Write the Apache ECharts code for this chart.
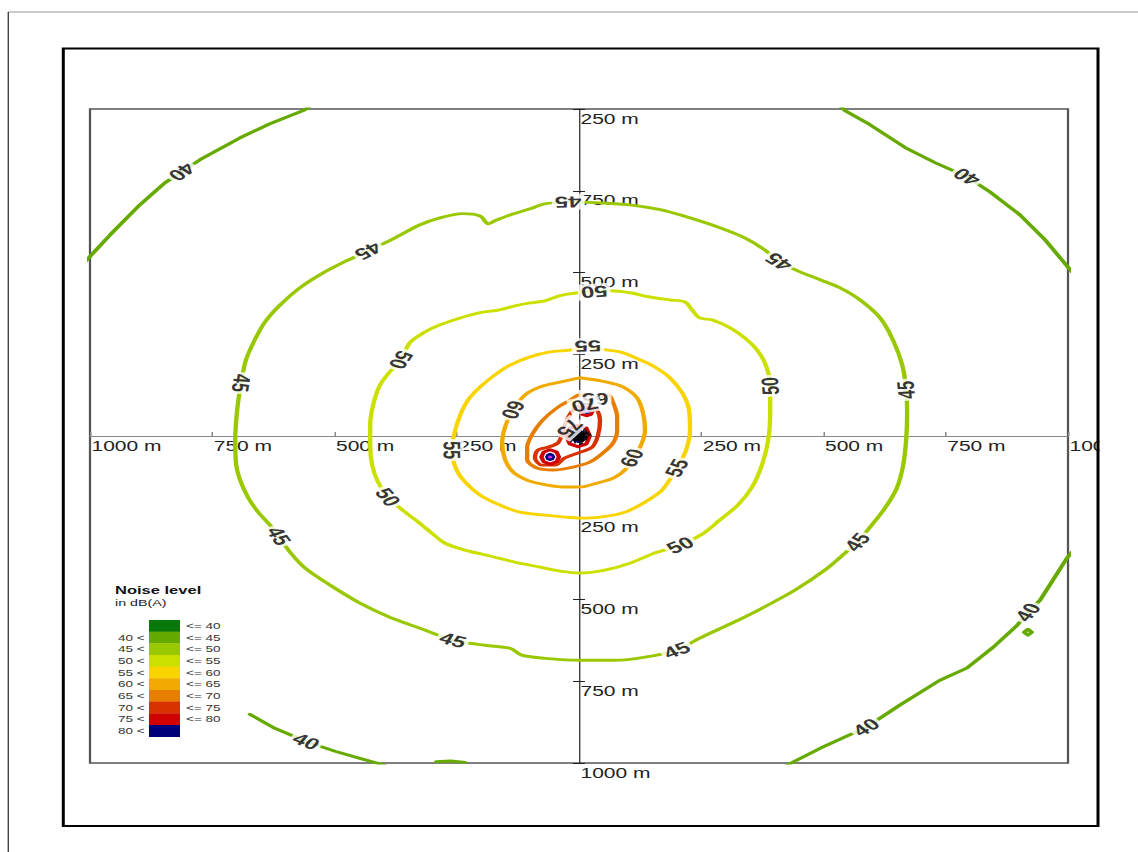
<!DOCTYPE html>
<html>
<head>
<meta charset="utf-8">
<title>Noise level contours</title>
<script src="https://cdn.jsdelivr.net/npm/echarts@6/dist/echarts.min.js"></script>
<style>
  html, body { margin: 0; padding: 0; background: #fff; overflow: hidden; }
  #stage { width: 1138px; height: 852px; overflow: hidden; position: relative; }
  /* the map is laid out on a narrow sheet and stretched to the page width */
  #chart { width: 759px; height: 852px; transform: scaleX(1.5); transform-origin: 0 0; }
</style>
</head>
<body>
<div id="stage"><div id="chart"></div></div>
<script>
// ---- axis ticks (metres from the source) ----
const xTicks = [-1000, -750, -500, -250, 0, 250, 500, 750, 1000];
const xTickLabels = ['1000 m', '750 m', '500 m', '250 m', '', '250 m', '500 m', '750 m', '1000 m'];
const yTicks = [-1000, -750, -500, -250, 0, 250, 500, 750, 1000];
const yTickLabels = ['1000 m', '750 m', '500 m', '250 m', '', '250 m', '500 m', '750 m', '250 m'];

// ---- noise bands, dB(A) ----
const bandLow = ['', '40 <', '45 <', '50 <', '55 <', '60 <', '65 <', '70 <', '75 <', '80 <'];
const bandHigh = ['<= 40', '<= 45', '<= 50', '<= 55', '<= 60', '<= 65', '<= 70', '<= 75', '<= 80', ''];
const bandColors = ['#0a780a', '#66aa00', '#99c800', '#cce000', '#f8d400', '#f0aa00', '#e87e00', '#d83200', '#d00000', '#00007a'];

// ---- iso-lines, [x m, y m], traced counter-clockwise ----
const c40NW = [[-545,1015],[-560,998],[-632,955],[-693,912],[-775,845],[-812,808],[-847,774],[-898,707],[-959,615],[-1010,533]];
const c40NE = [[1008,502],[953,600],[902,676],[840,747],[793,793],[728,836],[667,882],[595,952],[544,995],[534,1010]];
const c40SW = [[-673,-851],[-622,-894],[-558,-934],[-499,-964],[-448,-986],[-397,-1007]];
const c40S = [[-292,-996],[-262,-994],[-233,-998]];
const c40SE = [[421,-1010],[493,-955],[587,-891],[656,-823],[738,-747],[793,-710],[847,-646],[896,-579],[918,-539],[943,-502],[998,-373],[1008,-355]];
const c40Ring = [[926,-600],[918,-591],[910,-600],[918,-609],[926,-600]];

const c45 = [[-22,716],[-70,710],[-100,695],[-141,676],[-172,658],[-186,649],[-202,673],[-239,680],[-284,667],[-325,646],
  [-376,606],[-431,566],[-479,533],[-530,493],[-571,453],[-611,401],[-642,349],[-663,294],[-681,233],[-691,162],
  [-699,80],[-703,-12],[-701,-89],[-693,-135],[-677,-187],[-656,-233],[-632,-272],[-614,-306],[-591,-355],[-560,-404],
  [-509,-456],[-448,-511],[-387,-554],[-325,-588],[-258,-624],[-192,-640],[-141,-649],[-117,-670],[-70,-680],[2,-686],
  [74,-686],[135,-676],[200,-655],[247,-618],[309,-575],[370,-530],[442,-471],[503,-410],[544,-358],[569,-324],
  [595,-279],[626,-220],[650,-159],[663,-89],[669,-12],[671,64],[669,141],[661,217],[642,294],[616,361],
  [575,416],[534,453],[493,478],[452,502],[409,533],[380,569],[339,606],[288,637],[227,667],[166,692],
  [104,707],[43,713],[-22,716]];

const c50 = [[31,441],[-2,438],[-39,429],[-70,413],[-100,407],[-131,398],[-162,386],[-202,377],[-243,361],[-284,340],
  [-315,318],[-346,285],[-364,233],[-387,196],[-407,156],[-421,95],[-427,34],[-427,-28],[-423,-89],[-411,-141],
  [-391,-187],[-358,-230],[-329,-263],[-301,-297],[-274,-328],[-233,-349],[-182,-367],[-131,-386],[-80,-401],[-39,-413],
  [2,-419],[53,-410],[104,-389],[155,-358],[207,-334],[252,-300],[288,-257],[325,-211],[354,-156],[374,-89],
  [387,-12],[391,64],[391,153],[382,217],[364,263],[339,300],[309,331],[272,355],[247,361],[231,386],
  [217,410],[186,416],[145,425],[104,438],[63,444],[31,441]];

const c55 = [[18,275],[-18,263],[-59,257],[-100,242],[-141,217],[-172,187],[-202,150],[-227,110],[-243,64],[-254,12],
  [-260,-43],[-252,-98],[-233,-141],[-202,-181],[-162,-211],[-121,-233],[-70,-242],[-29,-248],[2,-251],[43,-248],
  [94,-233],[135,-202],[170,-165],[200,-98],[219,-43],[227,18],[225,80],[211,132],[186,178],[155,211],
  [125,233],[84,257],[43,266],[18,275]];

const c60 = [[2,178],[-39,165],[-80,150],[-110,126],[-135,80],[-151,28],[-157,-21],[-151,-73],[-135,-110],[-106,-135],
  [-65,-150],[-25,-156],[2,-156],[37,-144],[70,-129],[98,-98],[108,-67],[125,-34],[135,18],[131,70],
  [119,116],[90,150],[57,165],[2,178]];

const c65 = [[33,116],[2,126],[-18,110],[-45,86],[-74,49],[-94,9],[-106,-34],[-106,-73],[-86,-98],[-53,-104],
  [-12,-95],[22,-80],[49,-52],[70,-21],[78,18],[78,58],[70,101],[59,126],[33,116]];

const c70 = [[12,95],[-8,86],[-25,49],[-33,12],[-43,-21],[-63,-34],[-84,-43],[-90,-67],[-76,-89],[-49,-89],
  [-29,-67],[-2,-52],[27,-34],[39,3],[43,49],[37,80],[27,95],[12,95]];

const c75N = [[28,77],[24,88],[16,92],[7,88],[4,77],[7,66],[16,62],[24,66],[28,77]];
const c75C = [[22,0],[15,24],[-2,33],[-19,24],[-26,0],[-19,-24],[-2,-33],[15,-24],[22,0]];
const c75W = [[-41,-64],[-46,-49],[-59,-42],[-72,-49],[-77,-64],[-72,-79],[-59,-86],[-46,-79],[-41,-64]];

const c80N = [[22,77],[20,83],[16,85],[12,83],[10,77],[12,71],[16,69],[20,71],[22,77]];
const c80C = [[12,0],[8,14],[-2,20],[-12,14],[-16,0],[-12,-14],[-2,-20],[8,-14],[12,0]];
const c80W = [[-50,-64],[-53,-56],[-59,-53],[-65,-56],[-68,-64],[-65,-72],[-59,-75],[-53,-72],[-50,-64]];

// ---- noise sources ----
const outerSources = [[16,77],[-59,-64]];
const centreSources = [[-2,0],[-12,4],[8,-3],[4,8],[-8,-8],[14,4],[-16,-4],[2,-12],[10,10],[-6,10],[6,-10]];

// contour list: level, points, vertices that carry the level label
const contours = [
  { level: 40, pts: c40NW, labelAt: [5] },
  { level: 40, pts: c40NE, labelAt: [4] },
  { level: 40, pts: c40SW, labelAt: [2] },
  { level: 40, pts: c40S, labelAt: [] },
  { level: 40, pts: c40SE, labelAt: [2, 8] },
  { level: 40, pts: c40Ring, labelAt: [] },
  { level: 45, pts: c45, labelAt: [0, 11, 19, 27, 34, 42, 49, 56, 64] },
  { level: 50, pts: c50, labelAt: [0, 12, 20, 34, 42] },
  { level: 55, pts: c55, labelAt: [0, 10, 23] },
  { level: 60, pts: c60, labelAt: [4, 16] },
  { level: 65, pts: c65, labelAt: [0] },
  { level: 70, pts: c70, labelAt: [0] },
  { level: 75, pts: c75N, labelAt: [] },
  { level: 75, pts: c75C, labelAt: [3] },
  { level: 75, pts: c75W, labelAt: [] }
];
const c80Loops = [c80N, c80C, c80W];

const levelColor = lv => bandColors[(lv - 40) / 5 + 1];
const FONT = '"Liberation Sans", Arial, sans-serif';

// ---- plot box (sheet pixels) ----
const GRID = { left: 60, right: 47, top: 109, bottom: 89 };
const SHEET_W = 759, SHEET_H = 852;
const plotW = SHEET_W - GRID.left - GRID.right;
const plotH = SHEET_H - GRID.top - GRID.bottom;

// ---- legend block and frames ----
const legendTop = 620, rowH = 11.67;
const legendChildren = [
  { type: 'text', x: 76.7, y: 590, style: { text: 'Noise level', font: 'bold 11px ' + FONT, fill: '#111', verticalAlign: 'middle' } },
  { type: 'text', x: 76.7, y: 603, style: { text: 'in dB(A)', font: '9.5px ' + FONT, fill: '#222', verticalAlign: 'middle' } }
];
bandColors.forEach((c, i) => {
  const cy = legendTop + i * rowH;
  legendChildren.push({ type: 'rect', shape: { x: 99.3, y: cy, width: 20.7, height: rowH + 0.3 }, style: { fill: c } });
  if (bandLow[i]) legendChildren.push({ type: 'text', x: 96.5, y: cy + rowH / 2, style: { text: bandLow[i], font: '9px ' + FONT, fill: '#333', align: 'right', verticalAlign: 'middle' } });
  if (bandHigh[i]) legendChildren.push({ type: 'text', x: 124, y: cy + rowH / 2, style: { text: bandHigh[i], font: '9px ' + FONT, fill: '#333', align: 'left', verticalAlign: 'middle' } });
});

const graphics = [
  { type: 'line', z: 100, shape: { x1: 5.5, y1: 12, x2: 759, y2: 12 }, style: { stroke: '#999', lineWidth: 1 } },
  { type: 'line', z: 100, shape: { x1: 5.5, y1: 12, x2: 5.5, y2: 852 }, style: { stroke: '#222', lineWidth: 0.8 } },
  { type: 'rect', z: 101, shape: { x: 733, y: 420, width: 30, height: 60 }, style: { fill: '#fff' } },
  { type: 'rect', z: 102, shape: { x: 42.2, y: 48.5, width: 689.8, height: 777.5 }, style: { fill: 'none', stroke: '#000', lineWidth: 2 } },
  { type: 'group', z: 100, children: legendChildren }
];

// ---- series ----
const series = contours.map(c => ({
  type: 'line',
  data: c.pts,
  showSymbol: false,
  symbol: 'none',
  smooth: c.pts.length > 12 ? 0.3 : 0,
  lineStyle: { color: levelColor(c.level), width: 2.9, cap: 'round', join: 'round' },
  silent: true,
  z: 3
}));

series.push({
  type: 'custom',
  name: 'above 80',
  data: c80Loops.map((_, i) => [i, 0]),
  renderItem: (params, api) => {
    const loop = c80Loops[api.value(0)];
    return {
      type: 'polygon',
      shape: { points: loop.map(p => api.coord(p)) },
      style: { fill: bandColors[9], stroke: bandColors[9], lineWidth: 1 }
    };
  },
  silent: true,
  z: 4
});

series.push({
  type: 'scatter',
  data: outerSources,
  symbol: 'circle',
  symbolSize: 3,
  itemStyle: { color: '#ff3cff' },
  silent: true,
  z: 5
});
series.push({
  type: 'scatter',
  data: centreSources,
  symbol: 'path://M4,0H6V4H10V6H6V10H4V6H0V4H4Z',
  symbolSize: [7, 10],
  itemStyle: { color: '#000' },
  silent: true,
  z: 6
});
series.push({
  id: 'levelLabels',
  type: 'scatter',
  data: [],
  symbolSize: 1,
  itemStyle: { color: 'rgba(0,0,0,0)' },
  label: {
    show: true,
    position: 'inside',
    fontFamily: FONT,
    fontWeight: 'bold',
    fontSize: 16,
    color: '#000',
    backgroundColor: '#fff',
    padding: [0, 2, 0, 2]
  },
  silent: true,
  z: 10
});

const tickText = (ticks, labels) => v => {
  const i = ticks.indexOf(v);
  return i < 0 ? '' : labels[i];
};

// the axes run through the origin of the map, in the middle of the plot box
const xAxisShift = -plotH / 2;
const yAxisShift = -plotW / 2;

const option = {
  animation: false,
  backgroundColor: '#fff',
  grid: {
    left: GRID.left, right: GRID.right, top: GRID.top, bottom: GRID.bottom,
    show: true, borderColor: '#555', borderWidth: 1.5,
    containLabel: false, outerBoundsMode: 'none'
  },
  xAxis: {
    type: 'value', min: -1000, max: 1000, interval: 250, position: 'bottom',
    offset: xAxisShift,
    axisLine: { onZero: false, lineStyle: { color: '#888', width: 1 } },
    axisTick: { show: true, inside: true, length: 4, lineStyle: { color: '#888' } },
    axisLabel: {
      show: true, margin: 3, align: 'left', color: '#222', fontSize: 14, fontFamily: FONT,
      padding: [0, 0, 0, 1], showMinLabel: true, showMaxLabel: true,
      formatter: tickText(xTicks, xTickLabels)
    },
    splitLine: { show: false }
  },
  yAxis: [
    {
      type: 'value', min: -1000, max: 1000, interval: 250, position: 'left',
      offset: yAxisShift,
      axisLine: { onZero: false, lineStyle: { color: '#222', width: 0.8 } },
      axisTick: { show: true, inside: false, length: 4, lineStyle: { color: '#222' } },
      axisLabel: {
        show: true, inside: true, margin: 1, align: 'left', verticalAlign: 'top',
        padding: [3, 0, 0, 0], color: '#222', fontSize: 14, fontFamily: FONT,
        showMinLabel: true, showMaxLabel: true,
        formatter: tickText(yTicks, yTickLabels)
      },
      splitLine: { show: false }
    },
    {
      type: 'value', min: -1000, max: 1000, interval: 250, position: 'right',
      offset: yAxisShift,
      axisLine: { show: false, onZero: false },
      axisTick: { show: true, inside: false, length: 4, lineStyle: { color: '#222' } },
      axisLabel: { show: false },
      splitLine: { show: false }
    }
  ],
  graphic: graphics,
  series: series
};

const chart = echarts.init(document.getElementById('chart'), null, { renderer: 'svg' });
chart.setOption(option);

// place level labels along their lines, turned to the local line direction
const labelData = [];
contours.forEach(c => {
  const n = c.pts.length;
  const closed = c.pts[0][0] === c.pts[n - 1][0] && c.pts[0][1] === c.pts[n - 1][1];
  c.labelAt.forEach(i => {
    let a = i - 1, b = i + 1;
    if (a < 0) a = closed ? n - 2 : 0;
    if (b > n - 1) b = closed ? 1 : n - 1;
    const pa = chart.convertToPixel({ gridIndex: 0 }, c.pts[a]);
    const pb = chart.convertToPixel({ gridIndex: 0 }, c.pts[b]);
    const deg = Math.atan2(-(pb[1] - pa[1]), pb[0] - pa[0]) * 180 / Math.PI;
    labelData.push({ value: c.pts[i], label: { rotate: deg, formatter: String(c.level) } });
  });
});
chart.setOption({ series: [{ id: 'levelLabels', data: labelData }] });
</script>
</body>
</html>
